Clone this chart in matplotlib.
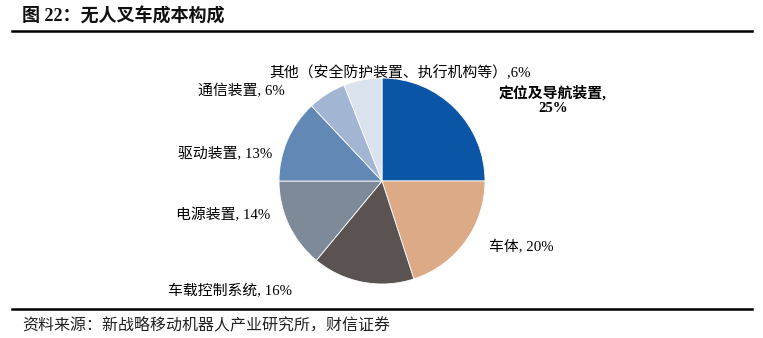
import matplotlib
matplotlib.use("Agg")
import matplotlib.pyplot as plt
from matplotlib.lines import Line2D

plt.rcParams['font.family'] = ['Liberation Serif', 'Noto Sans CJK SC', 'DejaVu Sans']

# data
names = ['定位及导航装置', '车体', '车载控制系统', '电源装置', '驱动装置', '通信装置',
         '其他（安全防护装置、执行机构等）']
shares = [25, 20, 16, 14, 13, 6, 6]
colors = ['#0a55a6', '#dcaa86', '#5a5352', '#7e8a98', '#6288b5', '#a2b6d3', '#dae2ee']

W, H = 763, 338
fig = plt.figure(figsize=(W / 100, H / 100), dpi=100)

def fx(px):
    return px / W

def fy(py):
    return 1 - py / H

# pie axes: centre (382, 181), radius 103 px
cx, cy, r = 382, 181, 103
ax = fig.add_axes([fx(cx - r), fy(cy + r), 2 * r / W, 2 * r / H])
ax.pie(shares, colors=colors, startangle=90, counterclock=False,
       wedgeprops=dict(edgecolor='white', linewidth=0.6))
ax.set_xlim(-1, 1)
ax.set_ylim(-1, 1)
ax.axis('off')

# title and rules
fig.text(fx(22), fy(17), '图 22：无人叉车成本构成', fontsize=13, fontweight='bold',
         va='center', ha='left', color='#111111')
fig.add_artist(Line2D([fx(12), fx(752)], [fy(31), fy(31)], color='black', lw=1.8))
fig.add_artist(Line2D([fx(12), fx(752)], [fy(309), fy(309)], color='black', lw=1.8))
fig.text(fx(22), fy(325), '资料来源：新战略移动机器人产业研究所，财信证券', fontsize=11.5,
         style='italic', va='center', ha='left', color='#222222')

# slice labels
lab = {n: f'{n}, {v}%' for n, v in zip(names, shares)}
fs = 10.7
fig.text(fx(400), fy(73), f'{names[6]},{shares[6]}%', fontsize=fs, ha='center', va='center')
fig.text(fx(553), fy(93), f'{names[0]},', fontsize=fs, ha='center', va='center',
         fontweight='bold')
fig.text(fx(553), fy(109), f'{shares[0]}%', fontsize=fs, ha='center', va='center',
         fontweight='bold')
fig.text(fx(285), fy(91), lab[names[5]], fontsize=fs, ha='right', va='center')
fig.text(fx(272), fy(153), lab[names[4]], fontsize=fs, ha='right', va='center')
fig.text(fx(270), fy(215), lab[names[3]], fontsize=fs, ha='right', va='center')
fig.text(fx(168), fy(291), lab[names[2]], fontsize=fs, ha='left', va='center')
fig.text(fx(489), fy(247), lab[names[1]], fontsize=fs, ha='left', va='center')

fig.savefig('out.png', dpi=100)
